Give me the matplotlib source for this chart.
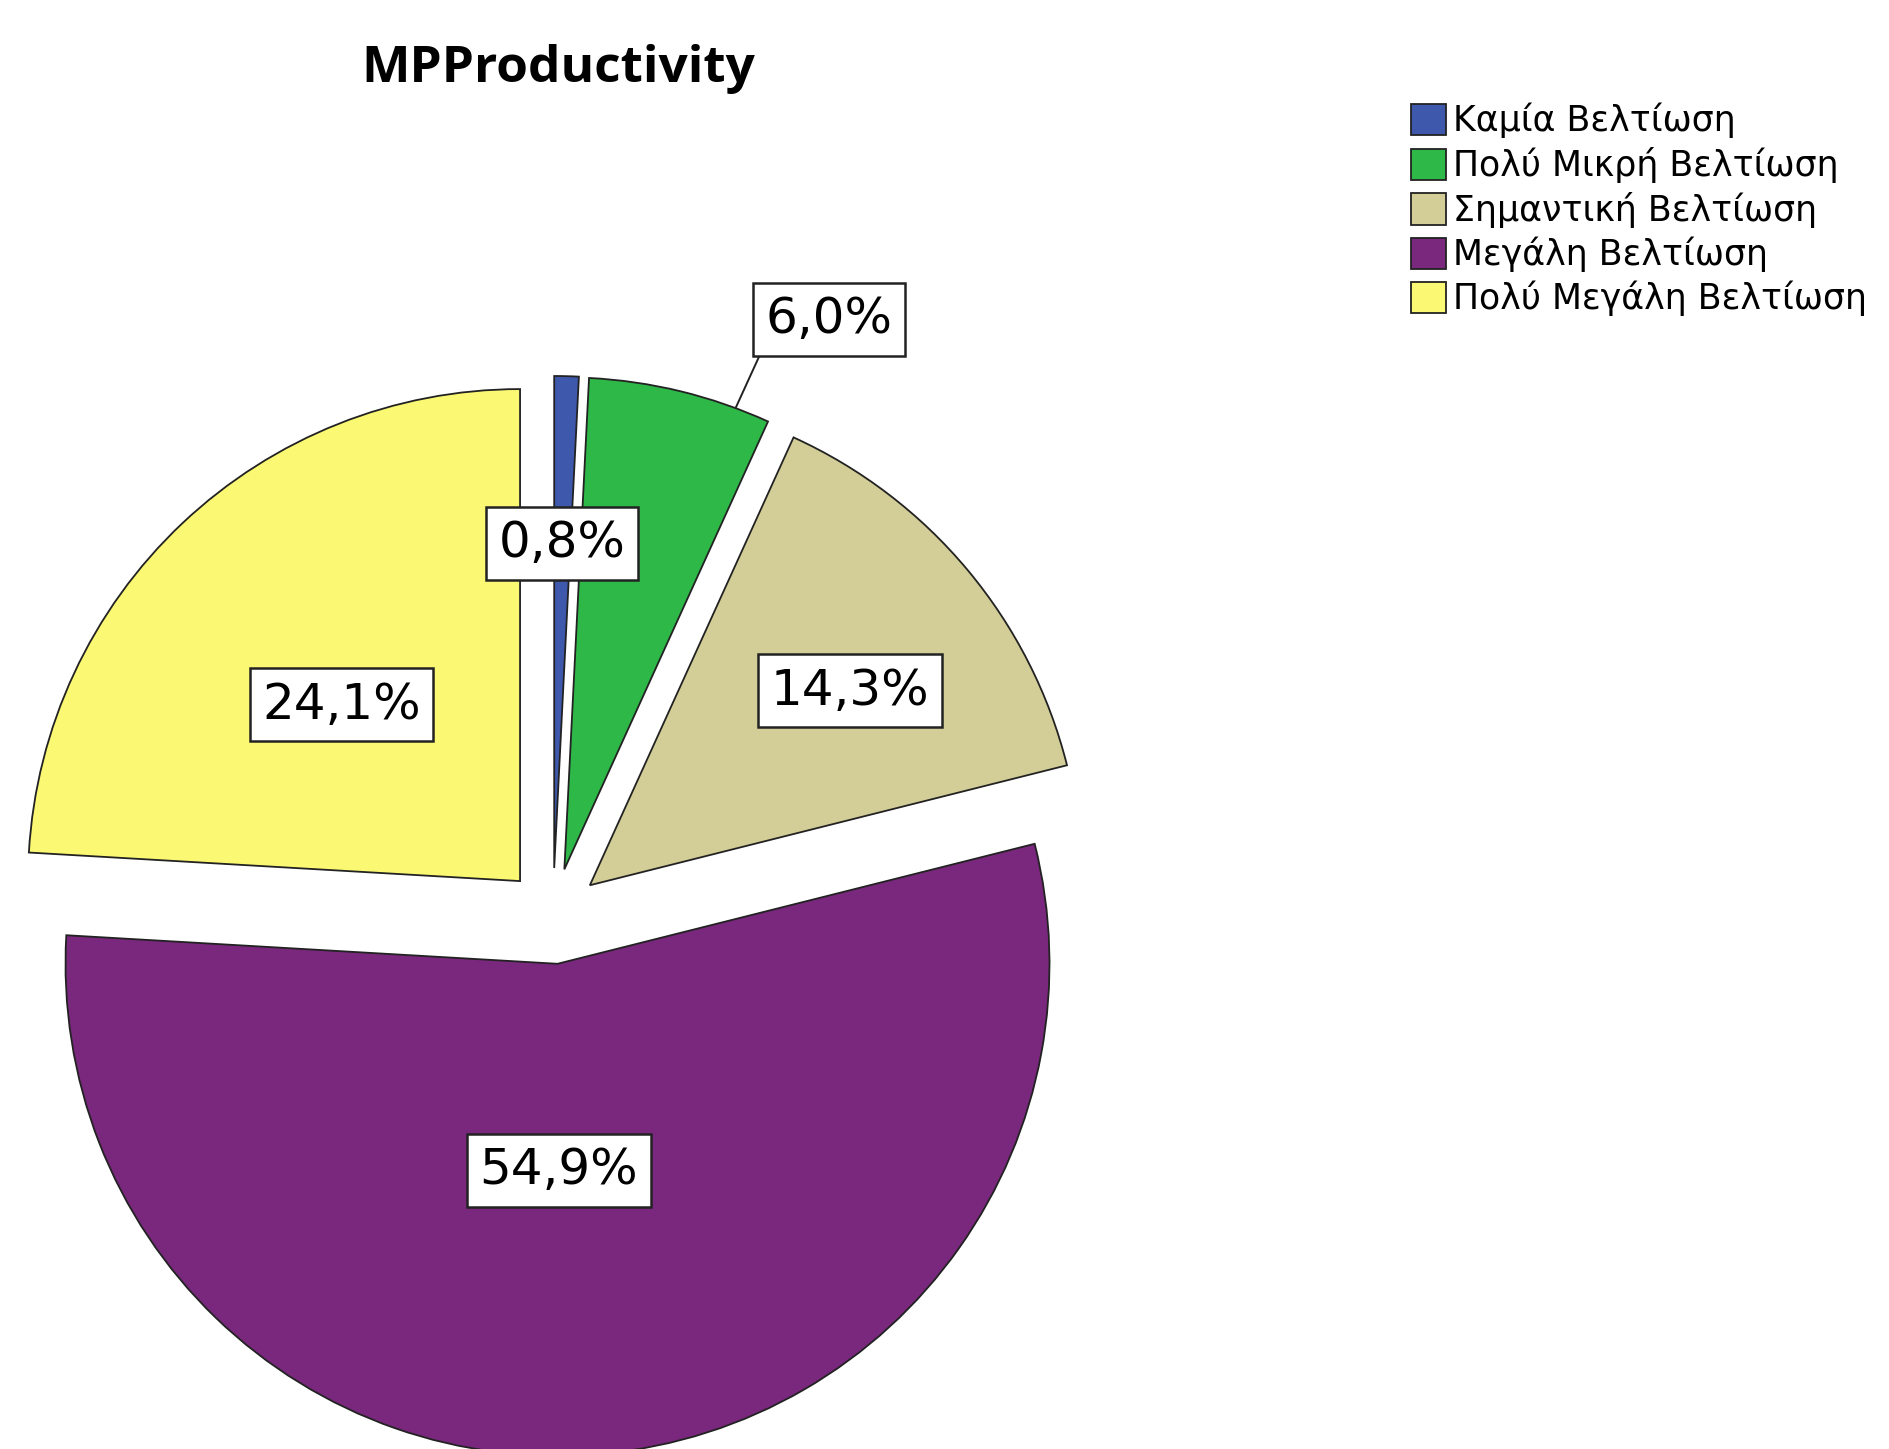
import numpy as np
import matplotlib
matplotlib.use("Agg")
import matplotlib.pyplot as plt

categories = ["Καμία Βελτίωση", "Πολύ Μικρή Βελτίωση", "Σημαντική Βελτίωση",
              "Μεγάλη Βελτίωση", "Πολύ Μεγάλη Βελτίωση"]
percents = [0.8, 6.0, 14.3, 54.9, 24.1]
labels = ["0,8%", "6,0%", "14,3%", "54,9%", "24,1%"]
colors = ["#3E58AC", "#2EB848", "#D3CE97", "#79287D", "#FBF873"]

# radial position of each label (fraction of radius), 6,0% sits outside
label_r = [0.66, 1.24, 0.66, 0.42, 0.51]
label_dang = [0, -12, -3, -5, 2]

fig = plt.figure(figsize=(18.9, 14.49), dpi=100)
ax = fig.add_axes([0, 0, 1, 1])

R = 492
# explode is in data units here (axes use pixel-like coordinates)
wedges, _ = ax.pie(percents, colors=colors, startangle=90, counterclock=False,
                   explode=[48] * len(percents), center=(553, 533), radius=R,
                   wedgeprops=dict(edgecolor="#222222", linewidth=1.3))
# pie() resets the limits, so set them afterwards
ax.set_xlim(0, 1890)
ax.set_ylim(0, 1449)
ax.set_aspect("equal")
ax.axis("off")

box = dict(boxstyle="square,pad=0.25", fc="white", ec="#222222", lw=1.8)
for i, w in enumerate(wedges):
    mid = (w.theta1 + w.theta2) / 2
    cx, cy = w.center
    a = np.deg2rad(mid + label_dang[i])
    tx = cx + label_r[i] * R * np.cos(a)
    ty = cy + label_r[i] * R * np.sin(a)
    if label_r[i] > 1:
        b = np.deg2rad(mid - 6.7)
        ax.annotate(labels[i], xy=(cx + R * np.cos(b), cy + R * np.sin(b)),
                    xytext=(tx, ty), ha="center", va="center", fontsize=36,
                    bbox=box, arrowprops=dict(arrowstyle="-", color="#222222", lw=1.4,
                                              relpos=(0, 0), shrinkA=0, shrinkB=0))
    else:
        ax.text(tx, ty, labels[i], ha="center", va="center", fontsize=36, bbox=box)

fig.text(558 / 1890, 1 - 69 / 1449, "MPProductivity", ha="center", va="center",
         fontsize=37, fontweight="bold", family="Open Sans")

fig.legend(wedges, categories, loc="upper left", bbox_to_anchor=(1411 / 1890, 1 - 103 / 1449),
           frameon=False, borderpad=0, borderaxespad=0, fontsize=25,
           handlelength=1.0, handleheight=1.0, handletextpad=0.2, labelspacing=0.25)

fig.savefig("out.png", dpi=100)
